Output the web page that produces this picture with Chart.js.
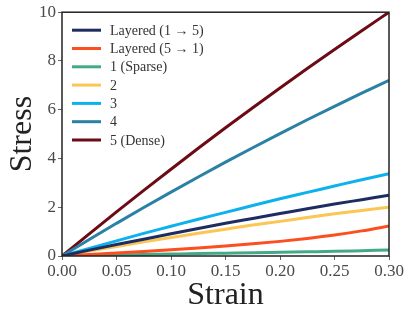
<!DOCTYPE html>
<html>
<head>
<meta charset="utf-8">
<script src="https://cdn.jsdelivr.net/npm/chart.js@4/dist/chart.umd.min.js"></script>
<style>
  html, body { margin: 0; padding: 0; background: #fff; }
  #wrap { width: 411px; height: 319px; }
</style>
</head>
<body>
<div id="wrap"><canvas id="sChart" width="411" height="319"></canvas></div>
<script>
// strain samples (x) and stress (y)
const strain    = [0, 0.025, 0.05, 0.075, 0.1, 0.125, 0.15, 0.175, 0.2, 0.225, 0.25, 0.275, 0.3];
const layered15 = [0, 0.24, 0.47, 0.69, 0.91, 1.13, 1.34, 1.54, 1.74, 1.94, 2.13, 2.31, 2.49];
const layered51 = [0, 0.06, 0.12, 0.185, 0.255, 0.33, 0.41, 0.50, 0.60, 0.72, 0.86, 1.03, 1.23];
const sparse1   = [0, 0.02, 0.04, 0.06, 0.08, 0.10, 0.115, 0.13, 0.15, 0.17, 0.19, 0.22, 0.25];
const dens2     = [0, 0.20, 0.39, 0.58, 0.76, 0.93, 1.10, 1.27, 1.42, 1.58, 1.73, 1.87, 2.00];
const dens3     = [0, 0.31, 0.62, 0.93, 1.22, 1.51, 1.79, 2.07, 2.35, 2.61, 2.87, 3.13, 3.37];
const dens4     = [0, 0.68, 1.34, 1.99, 2.62, 3.24, 3.85, 4.44, 5.02, 5.59, 6.14, 6.68, 7.20];
const dense5    = [0, 0.91, 1.81, 2.69, 3.56, 4.42, 5.26, 6.08, 6.89, 7.69, 8.47, 9.24, 10.0];

const labels = ['Layered (1 \u2192 5)', 'Layered (5 \u2192 1)', '1 (Sparse)', '2', '3', '4', '5 (Dense)'];
const series = [layered15, layered51, sparse1, dens2, dens3, dens4, dense5];
const colors = ['#1d2d62', '#fc4e1e', '#43aa88', '#fbc653', '#0cb1ee', '#2b80a5', '#6c0b15'];

const xTicks = [0, 0.05, 0.1, 0.15, 0.2, 0.25, 0.3];
const yTicks = [0, 2, 4, 6, 8, 10];

const serif = "'Liberation Serif', 'DejaVu Serif', serif";

function pts(ys) {
    return strain.map((x, i) => ({ x: x, y: ys[i] }));
}

// frame + legend drawn inside the plot area
const framePlugin = {
    id: 'frame',
    afterDraw(chart) {
        const c = chart.ctx, a = chart.chartArea;
        c.save();
        c.strokeStyle = '#222';
        c.lineWidth = 1.5;
        c.strokeRect(a.left, a.top, a.right - a.left, a.bottom - a.top);

        c.font = '14px ' + serif;
        c.textBaseline = 'middle';
        c.textAlign = 'left';
        chart.data.datasets.forEach((ds, i) => {
            const y = a.top + 18 + i * 18.3;
            c.strokeStyle = ds.borderColor;
            c.lineWidth = 3;
            c.beginPath();
            c.moveTo(a.left + 10, y);
            c.lineTo(a.left + 39, y);
            c.stroke();
            c.fillStyle = '#333';
            c.fillText(ds.label, a.left + 48, y + 1);
        });
        c.restore();
    }
};

var ct = document.getElementById('sChart').getContext('2d');

var sChart = new Chart(ct, {
    type: 'line',
    data: {
        datasets: series.map((s, i) => ({
            label: labels[i],
            data: pts(s),
            borderColor: colors[i],
            backgroundColor: colors[i],
            borderWidth: 3,
            pointRadius: 0,
            cubicInterpolationMode: 'monotone',
            fill: false
        }))
    },
    options: {
        responsive: false,
        animation: false,
        layout: { padding: { top: 12, right: 22, left: 0, bottom: 0 } },
        plugins: {
            legend: { display: false },
            tooltip: { enabled: false }
        },
        scales: {
            x: {
                type: 'linear',
                min: 0,
                max: 0.3,
                afterFit: s => { s.height = 63; },
                afterBuildTicks: s => { s.ticks = xTicks.map(v => ({ value: v })); },
                ticks: {
                    color: '#4a4a4a',
                    font: { family: serif, size: 17 },
                    padding: 1,
                    maxRotation: 0,
                    callback: v => v.toFixed(2)
                },
                grid: { drawOnChartArea: false, tickLength: 4, color: '#666' },
                border: { display: false },
                title: {
                    display: true,
                    text: 'Strain',
                    color: '#222',
                    font: { family: serif, size: 32 },
                    padding: { top: 0, bottom: 4 }
                }
            },
            y: {
                min: 0,
                max: 10,
                afterFit: s => { s.width = 62; },
                afterBuildTicks: s => { s.ticks = yTicks.map(v => ({ value: v })); },
                ticks: {
                    color: '#4a4a4a',
                    font: { family: serif, size: 17 },
                    padding: 2
                },
                grid: { drawOnChartArea: false, tickLength: 4, color: '#666' },
                border: { display: false },
                title: {
                    display: true,
                    text: 'Stress',
                    color: '#222',
                    font: { family: serif, size: 32 },
                    padding: { top: 3, bottom: 0 }
                }
            }
        }
    },
    plugins: [framePlugin]
});
</script>
</body>
</html>
